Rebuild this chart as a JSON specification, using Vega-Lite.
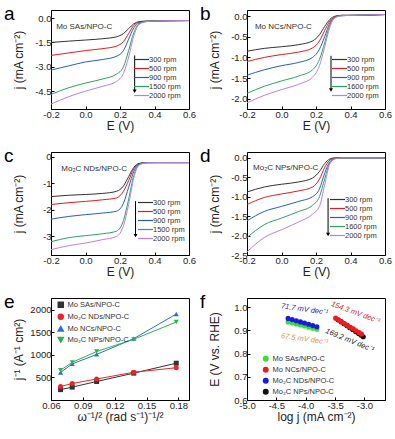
{
"$schema": "https://vega.github.io/schema/vega-lite/v6.json",
"background": "white",
"padding": {"left": 3, "top": 4, "right": 2, "bottom": 2},
"columns": 2,
"spacing": {"row": 14, "column": 2},
"config": {
  "font": "Liberation Sans",
  "locale": {"number": {"decimal": ".", "thousands": ",", "grouping": [3], "currency": ["$", ""], "minus": "-"}},
  "view": {"stroke": "black", "strokeWidth": 1},
  "axis": {"domainColor": "black", "tickColor": "black", "labelColor": "#222", "titleColor": "#222", "labelFontSize": 9.5, "titleFontSize": 12, "titleFontWeight": "normal", "grid": false, "tickSize": -3, "labelPadding": 3, "titlePadding": 2, "labelFont": "Liberation Sans", "titleFont": "Liberation Sans", "labelOverlap": false, "labelFlush": false},
  "axisY": {"minExtent": 24, "maxExtent": 24},
  "legend": {"labelFont": "Liberation Sans", "labelColor": "#333"},
  "title": {"fontSize": 19, "fontWeight": "normal", "anchor": "start", "frame": "bounds", "baseline": "alphabetic", "offset": -14, "dx": -8, "color": "black", "font": "Liberation Sans"}
},
"resolve": {"scale": {"color": "independent", "shape": "independent", "x": "independent", "y": "independent"}, "legend": {"color": "independent", "shape": "independent"}},
"datasets": {
 "lsv": [
{"p":"a","r":"300 rpm","E":-0.2,"j":-1.5},{"p":"a","r":"300 rpm","E":-0.1,"j":-1.42},{"p":"a","r":"300 rpm","E":0,"j":-1.35},{"p":"a","r":"300 rpm","E":0.1,"j":-1.27},{"p":"a","r":"300 rpm","E":0.18,"j":-1.15},{"p":"a","r":"300 rpm","E":0.22,"j":-0.95},{"p":"a","r":"300 rpm","E":0.25,"j":-0.65},{"p":"a","r":"300 rpm","E":0.28,"j":-0.35},{"p":"a","r":"300 rpm","E":0.31,"j":-0.22},{"p":"a","r":"300 rpm","E":0.35,"j":-0.18},{"p":"a","r":"300 rpm","E":0.4,"j":-0.17},{"p":"a","r":"300 rpm","E":0.6,"j":-0.15},
{"p":"a","r":"500 rpm","E":-0.2,"j":-2.3},{"p":"a","r":"500 rpm","E":-0.1,"j":-2.15},{"p":"a","r":"500 rpm","E":0,"j":-2.0},{"p":"a","r":"500 rpm","E":0.1,"j":-1.88},{"p":"a","r":"500 rpm","E":0.18,"j":-1.72},{"p":"a","r":"500 rpm","E":0.22,"j":-1.45},{"p":"a","r":"500 rpm","E":0.25,"j":-0.95},{"p":"a","r":"500 rpm","E":0.28,"j":-0.45},{"p":"a","r":"500 rpm","E":0.31,"j":-0.25},{"p":"a","r":"500 rpm","E":0.35,"j":-0.2},{"p":"a","r":"500 rpm","E":0.4,"j":-0.18},{"p":"a","r":"500 rpm","E":0.6,"j":-0.15},
{"p":"a","r":"900 rpm","E":-0.2,"j":-3.2},{"p":"a","r":"900 rpm","E":-0.1,"j":-2.95},{"p":"a","r":"900 rpm","E":0,"j":-2.7},{"p":"a","r":"900 rpm","E":0.1,"j":-2.55},{"p":"a","r":"900 rpm","E":0.18,"j":-2.35},{"p":"a","r":"900 rpm","E":0.22,"j":-2.0},{"p":"a","r":"900 rpm","E":0.25,"j":-1.3},{"p":"a","r":"900 rpm","E":0.28,"j":-0.6},{"p":"a","r":"900 rpm","E":0.31,"j":-0.3},{"p":"a","r":"900 rpm","E":0.35,"j":-0.2},{"p":"a","r":"900 rpm","E":0.4,"j":-0.18},{"p":"a","r":"900 rpm","E":0.6,"j":-0.15},
{"p":"a","r":"1500 rpm","E":-0.2,"j":-4.7},{"p":"a","r":"1500 rpm","E":-0.1,"j":-4.3},{"p":"a","r":"1500 rpm","E":0,"j":-4.0},{"p":"a","r":"1500 rpm","E":0.1,"j":-3.75},{"p":"a","r":"1500 rpm","E":0.18,"j":-3.45},{"p":"a","r":"1500 rpm","E":0.22,"j":-3.0},{"p":"a","r":"1500 rpm","E":0.25,"j":-2.0},{"p":"a","r":"1500 rpm","E":0.28,"j":-0.9},{"p":"a","r":"1500 rpm","E":0.31,"j":-0.35},{"p":"a","r":"1500 rpm","E":0.35,"j":-0.22},{"p":"a","r":"1500 rpm","E":0.4,"j":-0.18},{"p":"a","r":"1500 rpm","E":0.6,"j":-0.15},
{"p":"a","r":"2000 rpm","E":-0.2,"j":-5.3},{"p":"a","r":"2000 rpm","E":-0.1,"j":-4.85},{"p":"a","r":"2000 rpm","E":0,"j":-4.5},{"p":"a","r":"2000 rpm","E":0.1,"j":-4.2},{"p":"a","r":"2000 rpm","E":0.18,"j":-3.9},{"p":"a","r":"2000 rpm","E":0.22,"j":-3.4},{"p":"a","r":"2000 rpm","E":0.25,"j":-2.4},{"p":"a","r":"2000 rpm","E":0.28,"j":-1.1},{"p":"a","r":"2000 rpm","E":0.31,"j":-0.4},{"p":"a","r":"2000 rpm","E":0.35,"j":-0.22},{"p":"a","r":"2000 rpm","E":0.4,"j":-0.18},{"p":"a","r":"2000 rpm","E":0.6,"j":-0.15},
{"p":"b","r":"300 rpm","E":-0.2,"j":-0.85},{"p":"b","r":"300 rpm","E":-0.1,"j":-0.78},{"p":"b","r":"300 rpm","E":0,"j":-0.74},{"p":"b","r":"300 rpm","E":0.1,"j":-0.69},{"p":"b","r":"300 rpm","E":0.18,"j":-0.6},{"p":"b","r":"300 rpm","E":0.22,"j":-0.45},{"p":"b","r":"300 rpm","E":0.25,"j":-0.25},{"p":"b","r":"300 rpm","E":0.28,"j":-0.08},{"p":"b","r":"300 rpm","E":0.31,"j":0.0},{"p":"b","r":"300 rpm","E":0.35,"j":0.02},{"p":"b","r":"300 rpm","E":0.4,"j":0.02},{"p":"b","r":"300 rpm","E":0.6,"j":0.04},
{"p":"b","r":"500 rpm","E":-0.2,"j":-1.1},{"p":"b","r":"500 rpm","E":-0.1,"j":-1.0},{"p":"b","r":"500 rpm","E":0,"j":-0.93},{"p":"b","r":"500 rpm","E":0.1,"j":-0.87},{"p":"b","r":"500 rpm","E":0.18,"j":-0.77},{"p":"b","r":"500 rpm","E":0.22,"j":-0.6},{"p":"b","r":"500 rpm","E":0.25,"j":-0.35},{"p":"b","r":"500 rpm","E":0.28,"j":-0.12},{"p":"b","r":"500 rpm","E":0.31,"j":-0.01},{"p":"b","r":"500 rpm","E":0.35,"j":0.02},{"p":"b","r":"500 rpm","E":0.4,"j":0.02},{"p":"b","r":"500 rpm","E":0.6,"j":0.04},
{"p":"b","r":"900 rpm","E":-0.2,"j":-1.43},{"p":"b","r":"900 rpm","E":-0.1,"j":-1.3},{"p":"b","r":"900 rpm","E":0,"j":-1.2},{"p":"b","r":"900 rpm","E":0.1,"j":-1.12},{"p":"b","r":"900 rpm","E":0.18,"j":-1.0},{"p":"b","r":"900 rpm","E":0.22,"j":-0.8},{"p":"b","r":"900 rpm","E":0.25,"j":-0.5},{"p":"b","r":"900 rpm","E":0.28,"j":-0.17},{"p":"b","r":"900 rpm","E":0.31,"j":-0.02},{"p":"b","r":"900 rpm","E":0.35,"j":0.02},{"p":"b","r":"900 rpm","E":0.4,"j":0.02},{"p":"b","r":"900 rpm","E":0.6,"j":0.04},
{"p":"b","r":"1600 rpm","E":-0.2,"j":-1.87},{"p":"b","r":"1600 rpm","E":-0.1,"j":-1.7},{"p":"b","r":"1600 rpm","E":0,"j":-1.57},{"p":"b","r":"1600 rpm","E":0.1,"j":-1.45},{"p":"b","r":"1600 rpm","E":0.18,"j":-1.3},{"p":"b","r":"1600 rpm","E":0.22,"j":-1.05},{"p":"b","r":"1600 rpm","E":0.25,"j":-0.65},{"p":"b","r":"1600 rpm","E":0.28,"j":-0.22},{"p":"b","r":"1600 rpm","E":0.31,"j":-0.03},{"p":"b","r":"1600 rpm","E":0.35,"j":0.01},{"p":"b","r":"1600 rpm","E":0.4,"j":0.02},{"p":"b","r":"1600 rpm","E":0.6,"j":0.04},
{"p":"b","r":"2000 rpm","E":-0.2,"j":-2.1},{"p":"b","r":"2000 rpm","E":-0.1,"j":-1.92},{"p":"b","r":"2000 rpm","E":0,"j":-1.78},{"p":"b","r":"2000 rpm","E":0.1,"j":-1.65},{"p":"b","r":"2000 rpm","E":0.18,"j":-1.48},{"p":"b","r":"2000 rpm","E":0.22,"j":-1.2},{"p":"b","r":"2000 rpm","E":0.25,"j":-0.75},{"p":"b","r":"2000 rpm","E":0.28,"j":-0.27},{"p":"b","r":"2000 rpm","E":0.31,"j":-0.04},{"p":"b","r":"2000 rpm","E":0.35,"j":0.01},{"p":"b","r":"2000 rpm","E":0.4,"j":0.02},{"p":"b","r":"2000 rpm","E":0.6,"j":0.04},
{"p":"c","r":"300 rpm","E":-0.2,"j":-1.5},{"p":"c","r":"300 rpm","E":-0.1,"j":-1.45},{"p":"c","r":"300 rpm","E":0,"j":-1.42},{"p":"c","r":"300 rpm","E":0.1,"j":-1.38},{"p":"c","r":"300 rpm","E":0.18,"j":-1.3},{"p":"c","r":"300 rpm","E":0.22,"j":-1.1},{"p":"c","r":"300 rpm","E":0.25,"j":-0.75},{"p":"c","r":"300 rpm","E":0.28,"j":-0.4},{"p":"c","r":"300 rpm","E":0.31,"j":-0.25},{"p":"c","r":"300 rpm","E":0.35,"j":-0.22},{"p":"c","r":"300 rpm","E":0.4,"j":-0.22},{"p":"c","r":"300 rpm","E":0.6,"j":-0.22},
{"p":"c","r":"500 rpm","E":-0.2,"j":-1.8},{"p":"c","r":"500 rpm","E":-0.1,"j":-1.73},{"p":"c","r":"500 rpm","E":0,"j":-1.68},{"p":"c","r":"500 rpm","E":0.1,"j":-1.62},{"p":"c","r":"500 rpm","E":0.18,"j":-1.55},{"p":"c","r":"500 rpm","E":0.22,"j":-1.3},{"p":"c","r":"500 rpm","E":0.25,"j":-0.9},{"p":"c","r":"500 rpm","E":0.28,"j":-0.45},{"p":"c","r":"500 rpm","E":0.31,"j":-0.27},{"p":"c","r":"500 rpm","E":0.35,"j":-0.22},{"p":"c","r":"500 rpm","E":0.4,"j":-0.22},{"p":"c","r":"500 rpm","E":0.6,"j":-0.22},
{"p":"c","r":"900 rpm","E":-0.2,"j":-2.35},{"p":"c","r":"900 rpm","E":-0.1,"j":-2.25},{"p":"c","r":"900 rpm","E":0,"j":-2.18},{"p":"c","r":"900 rpm","E":0.1,"j":-2.12},{"p":"c","r":"900 rpm","E":0.18,"j":-2.05},{"p":"c","r":"900 rpm","E":0.22,"j":-1.75},{"p":"c","r":"900 rpm","E":0.25,"j":-1.15},{"p":"c","r":"900 rpm","E":0.28,"j":-0.55},{"p":"c","r":"900 rpm","E":0.31,"j":-0.28},{"p":"c","r":"900 rpm","E":0.35,"j":-0.22},{"p":"c","r":"900 rpm","E":0.4,"j":-0.22},{"p":"c","r":"900 rpm","E":0.6,"j":-0.22},
{"p":"c","r":"1500 rpm","E":-0.2,"j":-3.2},{"p":"c","r":"1500 rpm","E":-0.1,"j":-3.05},{"p":"c","r":"1500 rpm","E":0,"j":-2.97},{"p":"c","r":"1500 rpm","E":0.1,"j":-2.9},{"p":"c","r":"1500 rpm","E":0.18,"j":-2.8},{"p":"c","r":"1500 rpm","E":0.22,"j":-2.4},{"p":"c","r":"1500 rpm","E":0.25,"j":-1.6},{"p":"c","r":"1500 rpm","E":0.28,"j":-0.7},{"p":"c","r":"1500 rpm","E":0.31,"j":-0.3},{"p":"c","r":"1500 rpm","E":0.35,"j":-0.23},{"p":"c","r":"1500 rpm","E":0.4,"j":-0.22},{"p":"c","r":"1500 rpm","E":0.6,"j":-0.22},
{"p":"c","r":"2000 rpm","E":-0.2,"j":-3.5},{"p":"c","r":"2000 rpm","E":-0.1,"j":-3.35},{"p":"c","r":"2000 rpm","E":0,"j":-3.25},{"p":"c","r":"2000 rpm","E":0.1,"j":-3.12},{"p":"c","r":"2000 rpm","E":0.18,"j":-3.0},{"p":"c","r":"2000 rpm","E":0.22,"j":-2.6},{"p":"c","r":"2000 rpm","E":0.25,"j":-1.8},{"p":"c","r":"2000 rpm","E":0.28,"j":-0.8},{"p":"c","r":"2000 rpm","E":0.31,"j":-0.32},{"p":"c","r":"2000 rpm","E":0.35,"j":-0.23},{"p":"c","r":"2000 rpm","E":0.4,"j":-0.22},{"p":"c","r":"2000 rpm","E":0.6,"j":-0.22},
{"p":"d","r":"300 rpm","E":-0.2,"j":-0.88},{"p":"d","r":"300 rpm","E":-0.1,"j":-0.75},{"p":"d","r":"300 rpm","E":0,"j":-0.68},{"p":"d","r":"300 rpm","E":0.1,"j":-0.62},{"p":"d","r":"300 rpm","E":0.18,"j":-0.52},{"p":"d","r":"300 rpm","E":0.22,"j":-0.35},{"p":"d","r":"300 rpm","E":0.25,"j":-0.15},{"p":"d","r":"300 rpm","E":0.28,"j":-0.03},{"p":"d","r":"300 rpm","E":0.31,"j":0.0},{"p":"d","r":"300 rpm","E":0.35,"j":0.0},{"p":"d","r":"300 rpm","E":0.4,"j":0.0},{"p":"d","r":"300 rpm","E":0.6,"j":0.0},
{"p":"d","r":"500 rpm","E":-0.2,"j":-1.2},{"p":"d","r":"500 rpm","E":-0.1,"j":-1.02},{"p":"d","r":"500 rpm","E":0,"j":-0.93},{"p":"d","r":"500 rpm","E":0.1,"j":-0.85},{"p":"d","r":"500 rpm","E":0.18,"j":-0.75},{"p":"d","r":"500 rpm","E":0.22,"j":-0.55},{"p":"d","r":"500 rpm","E":0.25,"j":-0.25},{"p":"d","r":"500 rpm","E":0.28,"j":-0.06},{"p":"d","r":"500 rpm","E":0.31,"j":-0.01},{"p":"d","r":"500 rpm","E":0.35,"j":0.0},{"p":"d","r":"500 rpm","E":0.4,"j":0.0},{"p":"d","r":"500 rpm","E":0.6,"j":0.0},
{"p":"d","r":"900 rpm","E":-0.2,"j":-1.62},{"p":"d","r":"900 rpm","E":-0.1,"j":-1.38},{"p":"d","r":"900 rpm","E":0,"j":-1.25},{"p":"d","r":"900 rpm","E":0.1,"j":-1.12},{"p":"d","r":"900 rpm","E":0.18,"j":-1.0},{"p":"d","r":"900 rpm","E":0.22,"j":-0.8},{"p":"d","r":"900 rpm","E":0.25,"j":-0.4},{"p":"d","r":"900 rpm","E":0.28,"j":-0.1},{"p":"d","r":"900 rpm","E":0.31,"j":-0.02},{"p":"d","r":"900 rpm","E":0.35,"j":0.0},{"p":"d","r":"900 rpm","E":0.4,"j":0.0},{"p":"d","r":"900 rpm","E":0.6,"j":0.0},
{"p":"d","r":"1600 rpm","E":-0.2,"j":-2.05},{"p":"d","r":"1600 rpm","E":-0.1,"j":-1.72},{"p":"d","r":"1600 rpm","E":0,"j":-1.55},{"p":"d","r":"1600 rpm","E":0.1,"j":-1.38},{"p":"d","r":"1600 rpm","E":0.18,"j":-1.22},{"p":"d","r":"1600 rpm","E":0.22,"j":-1.0},{"p":"d","r":"1600 rpm","E":0.25,"j":-0.55},{"p":"d","r":"1600 rpm","E":0.28,"j":-0.13},{"p":"d","r":"1600 rpm","E":0.31,"j":-0.02},{"p":"d","r":"1600 rpm","E":0.35,"j":0.0},{"p":"d","r":"1600 rpm","E":0.4,"j":0.0},{"p":"d","r":"1600 rpm","E":0.6,"j":0.0},
{"p":"d","r":"2000 rpm","E":-0.2,"j":-2.42},{"p":"d","r":"2000 rpm","E":-0.1,"j":-2.05},{"p":"d","r":"2000 rpm","E":0,"j":-1.85},{"p":"d","r":"2000 rpm","E":0.1,"j":-1.65},{"p":"d","r":"2000 rpm","E":0.18,"j":-1.45},{"p":"d","r":"2000 rpm","E":0.22,"j":-1.25},{"p":"d","r":"2000 rpm","E":0.25,"j":-0.7},{"p":"d","r":"2000 rpm","E":0.28,"j":-0.16},{"p":"d","r":"2000 rpm","E":0.31,"j":-0.03},{"p":"d","r":"2000 rpm","E":0.35,"j":0.0},{"p":"d","r":"2000 rpm","E":0.4,"j":0.0},{"p":"d","r":"2000 rpm","E":0.6,"j":0.0}
 ],
 "kl": [
{"s":"Mo SAs/NPO-C","x":0.069,"y":230},{"s":"Mo SAs/NPO-C","x":0.080,"y":285},{"s":"Mo SAs/NPO-C","x":0.103,"y":410},{"s":"Mo SAs/NPO-C","x":0.138,"y":595},{"s":"Mo SAs/NPO-C","x":0.178,"y":815},
{"s":"Mo₂C NDs/NPO-C","x":0.069,"y":300},{"s":"Mo₂C NDs/NPO-C","x":0.080,"y":365},{"s":"Mo₂C NDs/NPO-C","x":0.103,"y":465},{"s":"Mo₂C NDs/NPO-C","x":0.138,"y":615},{"s":"Mo₂C NDs/NPO-C","x":0.178,"y":715},
{"s":"Mo NCs/NPO-C","x":0.069,"y":610},{"s":"Mo NCs/NPO-C","x":0.080,"y":800},{"s":"Mo NCs/NPO-C","x":0.103,"y":1010},{"s":"Mo NCs/NPO-C","x":0.138,"y":1360},{"s":"Mo NCs/NPO-C","x":0.178,"y":1905},
{"s":"Mo₂C NPs/NPO-C","x":0.069,"y":660},{"s":"Mo₂C NPs/NPO-C","x":0.080,"y":835},{"s":"Mo₂C NPs/NPO-C","x":0.103,"y":1075},{"s":"Mo₂C NPs/NPO-C","x":0.138,"y":1345},{"s":"Mo₂C NPs/NPO-C","x":0.178,"y":1728}
 ],
 "tafel": [
{"s":"Mo SAs/NPO-C","x":-4.30,"y":0.937},{"s":"Mo SAs/NPO-C","x":-4.23,"y":0.933},{"s":"Mo SAs/NPO-C","x":-4.16,"y":0.928},{"s":"Mo SAs/NPO-C","x":-4.09,"y":0.924},{"s":"Mo SAs/NPO-C","x":-4.02,"y":0.919},{"s":"Mo SAs/NPO-C","x":-3.95,"y":0.914},{"s":"Mo SAs/NPO-C","x":-3.88,"y":0.910},{"s":"Mo SAs/NPO-C","x":-3.81,"y":0.905},
{"s":"Mo₂C NDs/NPO-C","x":-4.30,"y":0.952},{"s":"Mo₂C NDs/NPO-C","x":-4.23,"y":0.947},{"s":"Mo₂C NDs/NPO-C","x":-4.16,"y":0.942},{"s":"Mo₂C NDs/NPO-C","x":-4.09,"y":0.937},{"s":"Mo₂C NDs/NPO-C","x":-4.02,"y":0.932},{"s":"Mo₂C NDs/NPO-C","x":-3.95,"y":0.927},{"s":"Mo₂C NDs/NPO-C","x":-3.88,"y":0.921},{"s":"Mo₂C NDs/NPO-C","x":-3.81,"y":0.916},
{"s":"Mo₂C NPs/NPO-C","x":-3.45,"y":0.946},{"s":"Mo₂C NPs/NPO-C","x":-3.40,"y":0.938},{"s":"Mo₂C NPs/NPO-C","x":-3.35,"y":0.929},{"s":"Mo₂C NPs/NPO-C","x":-3.30,"y":0.921},{"s":"Mo₂C NPs/NPO-C","x":-3.25,"y":0.912},{"s":"Mo₂C NPs/NPO-C","x":-3.20,"y":0.904},{"s":"Mo₂C NPs/NPO-C","x":-3.15,"y":0.895},{"s":"Mo₂C NPs/NPO-C","x":-3.10,"y":0.887},{"s":"Mo₂C NPs/NPO-C","x":-3.06,"y":0.880},{"s":"Mo₂C NPs/NPO-C","x":-3.02,"y":0.873},
{"s":"Mo NCs/NPO-C","x":-3.49,"y":0.953},{"s":"Mo NCs/NPO-C","x":-3.44,"y":0.945},{"s":"Mo NCs/NPO-C","x":-3.39,"y":0.937},{"s":"Mo NCs/NPO-C","x":-3.34,"y":0.930},{"s":"Mo NCs/NPO-C","x":-3.29,"y":0.922},{"s":"Mo NCs/NPO-C","x":-3.24,"y":0.914},{"s":"Mo NCs/NPO-C","x":-3.19,"y":0.907},{"s":"Mo NCs/NPO-C","x":-3.14,"y":0.899},{"s":"Mo NCs/NPO-C","x":-3.09,"y":0.891},{"s":"Mo NCs/NPO-C","x":-3.05,"y":0.885}
 ]
},
"concat": [
 {
  "title": {"text": "a"},
  "width": 138, "height": 99,
  "encoding": {
   "x": {"field": "E", "type": "quantitative", "scale": {"domain": [-0.2, 0.6], "nice": false}, "axis": {"values": [-0.2, 0, 0.2, 0.4, 0.6], "format": ".1f", "title": "E (V)", "labelOverlap": false}},
   "y": {"field": "j", "type": "quantitative", "scale": {"domain": [-5.6, 0.5], "nice": false, "zero": false}, "axis": {"values": [0, -1.5, -3, -4.5], "format": ".1f", "title": "j (mA cm⁻²)", "labelOverlap": false}}
  },
  "layer": [
   {"data": {"name": "lsv"}, "transform": [{"filter": "datum.p == 'a'"}],
    "mark": {"type": "line", "strokeWidth": 1, "interpolate": "monotone"},
    "encoding": {
     "color": {"field": "r", "type": "nominal", "sort": null, "scale": {"domain": ["300 rpm", "500 rpm", "900 rpm", "1500 rpm", "2000 rpm"], "range": ["#333333", "#e41a1c", "#1f5fc4", "#2ca25f", "#c07ee0"]},
      "legend": {"title": null, "orient": "none", "legendX": 86, "legendY": 45, "symbolType": "M-2,0H2", "symbolSize": 56, "symbolStrokeWidth": 1.2, "labelFontSize": 7.5, "rowPadding": 1, "labelOffset": 3, "padding": 0}}
    }},
   {"data": {"values": [{"E": 0.285, "j": -2.3, "j2": -4.5}]}, "mark": {"type": "rule", "color": "black", "strokeWidth": 1},
    "encoding": {"y2": {"field": "j2"}}},
   {"data": {"values": [{"E": 0.285, "j": -4.5}]}, "mark": {"type": "point", "shape": "triangle-down", "filled": true, "color": "black", "size": 16, "opacity": 1}, "encoding": {}},
   {"data": {"values": [{"E": -0.17, "j": -0.57, "t": "Mo SAs/NPO-C"}]}, "mark": {"type": "text", "align": "left", "baseline": "middle", "fontSize": 8, "color": "#333"},
    "encoding": {"text": {"field": "t"}}}
  ]
 },
 {
  "title": {"text": "b"},
  "width": 138, "height": 99,
  "encoding": {
   "x": {"field": "E", "type": "quantitative", "scale": {"domain": [-0.2, 0.6], "nice": false}, "axis": {"values": [-0.2, 0, 0.2, 0.4, 0.6], "format": ".1f", "title": "E (V)", "labelOverlap": false}},
   "y": {"field": "j", "type": "quantitative", "scale": {"domain": [-2.25, 0.15], "nice": false, "zero": false}, "axis": {"values": [0, -0.5, -1, -1.5, -2], "format": ".1f", "title": "j (mA cm⁻²)", "labelOverlap": false}}
  },
  "layer": [
   {"data": {"name": "lsv"}, "transform": [{"filter": "datum.p == 'b'"}],
    "mark": {"type": "line", "strokeWidth": 1, "interpolate": "monotone"},
    "encoding": {
     "color": {"field": "r", "type": "nominal", "sort": null, "scale": {"domain": ["300 rpm", "500 rpm", "900 rpm", "1600 rpm", "2000 rpm"], "range": ["#333333", "#e41a1c", "#1f5fc4", "#2ca25f", "#c07ee0"]},
      "legend": {"title": null, "orient": "none", "legendX": 88, "legendY": 45, "symbolType": "M-2,0H2", "symbolSize": 56, "symbolStrokeWidth": 1.2, "labelFontSize": 7.5, "rowPadding": 1, "labelOffset": 3, "padding": 0}}
    }},
   {"data": {"values": [{"E": 0.287, "j": -0.96, "j2": -1.79}]}, "mark": {"type": "rule", "color": "black", "strokeWidth": 1},
    "encoding": {"y2": {"field": "j2"}}},
   {"data": {"values": [{"E": 0.287, "j": -1.79}]}, "mark": {"type": "point", "shape": "triangle-down", "filled": true, "color": "black", "size": 16, "opacity": 1}, "encoding": {}},
   {"data": {"values": [{"E": -0.154, "j": -0.26, "t": "Mo NCs/NPO-C"}]}, "mark": {"type": "text", "align": "left", "baseline": "middle", "fontSize": 8, "color": "#333"},
    "encoding": {"text": {"field": "t"}}}
  ]
 },
 {
  "title": {"text": "c"},
  "width": 138, "height": 103,
  "encoding": {
   "x": {"field": "E", "type": "quantitative", "scale": {"domain": [-0.2, 0.6], "nice": false}, "axis": {"values": [-0.2, 0, 0.2, 0.4, 0.6], "format": ".1f", "title": "E (V)", "labelOverlap": false}},
   "y": {"field": "j", "type": "quantitative", "scale": {"domain": [-3.7, 0.18], "nice": false, "zero": false}, "axis": {"values": [0, -1, -2, -3], "format": "d", "title": "j (mA cm⁻²)", "labelOverlap": false}}
  },
  "layer": [
   {"data": {"name": "lsv"}, "transform": [{"filter": "datum.p == 'c'"}],
    "mark": {"type": "line", "strokeWidth": 1, "interpolate": "monotone"},
    "encoding": {
     "color": {"field": "r", "type": "nominal", "sort": null, "scale": {"domain": ["300 rpm", "500 rpm", "900 rpm", "1500 rpm", "2000 rpm"], "range": ["#333333", "#e41a1c", "#1f5fc4", "#2ca25f", "#c07ee0"]},
      "legend": {"title": null, "orient": "none", "legendX": 90, "legendY": 46, "symbolType": "M-2,0H2", "symbolSize": 56, "symbolStrokeWidth": 1.2, "labelFontSize": 7.5, "rowPadding": 1, "labelOffset": 3, "padding": 0}}
    }},
   {"data": {"values": [{"E": 0.29, "j": -1.67, "j2": -2.97}]}, "mark": {"type": "rule", "color": "black", "strokeWidth": 1},
    "encoding": {"y2": {"field": "j2"}}},
   {"data": {"values": [{"E": 0.29, "j": -2.97}]}, "mark": {"type": "point", "shape": "triangle-down", "filled": true, "color": "black", "size": 16, "opacity": 1}, "encoding": {}},
   {"data": {"values": [{"E": -0.14, "j": -0.47, "t": "Mo₂C NDs/NPO-C"}]}, "mark": {"type": "text", "align": "left", "baseline": "middle", "fontSize": 8, "color": "#333"},
    "encoding": {"text": {"field": "t"}}}
  ]
 },
 {
  "title": {"text": "d"},
  "width": 138, "height": 103,
  "encoding": {
   "x": {"field": "E", "type": "quantitative", "scale": {"domain": [-0.2, 0.6], "nice": false}, "axis": {"values": [-0.2, 0, 0.2, 0.4, 0.6], "format": ".1f", "title": "E (V)", "labelOverlap": false}},
   "y": {"field": "j", "type": "quantitative", "scale": {"domain": [-2.5, 0.15], "nice": false, "zero": false}, "axis": {"values": [0, -0.5, -1, -1.5, -2, -2.5], "format": ".1f", "title": "j (mA cm⁻²)", "labelOverlap": false}}
  },
  "layer": [
   {"data": {"name": "lsv"}, "transform": [{"filter": "datum.p == 'd'"}],
    "mark": {"type": "line", "strokeWidth": 1, "interpolate": "monotone"},
    "encoding": {
     "color": {"field": "r", "type": "nominal", "sort": null, "scale": {"domain": ["300 rpm", "500 rpm", "900 rpm", "1600 rpm", "2000 rpm"], "range": ["#333333", "#e41a1c", "#1f5fc4", "#2ca25f", "#c07ee0"]},
      "legend": {"title": null, "orient": "none", "legendX": 86, "legendY": 43, "symbolType": "M-2,0H2", "symbolSize": 56, "symbolStrokeWidth": 1.2, "labelFontSize": 7.5, "rowPadding": 1, "labelOffset": 3, "padding": 0}}
    }},
   {"data": {"values": [{"E": 0.27, "j": -1.04, "j2": -1.97}]}, "mark": {"type": "rule", "color": "black", "strokeWidth": 1},
    "encoding": {"y2": {"field": "j2"}}},
   {"data": {"values": [{"E": 0.27, "j": -1.97}]}, "mark": {"type": "point", "shape": "triangle-down", "filled": true, "color": "black", "size": 16, "opacity": 1}, "encoding": {}},
   {"data": {"values": [{"E": -0.165, "j": -0.25, "t": "Mo₂C NPs/NPO-C"}]}, "mark": {"type": "text", "align": "left", "baseline": "middle", "fontSize": 8, "color": "#333"},
    "encoding": {"text": {"field": "t"}}}
  ]
 },
 {
  "title": {"text": "e"},
  "width": 138, "height": 102,
  "data": {"name": "kl"},
  "encoding": {
   "x": {"field": "x", "type": "quantitative", "scale": {"domain": [0.06, 0.19], "nice": false, "zero": false}, "axis": {"values": [0.06, 0.09, 0.12, 0.15, 0.18], "format": ".2f", "title": "ω⁻¹/² (rad s⁻¹)⁻¹/²", "labelOverlap": false}},
   "y": {"field": "y", "type": "quantitative", "scale": {"domain": [0, 2260], "nice": false}, "axis": {"values": [500, 1000, 1500, 2000], "format": "d", "title": "j⁻¹ (A⁻¹ cm²)", "labelOverlap": false}},
   "color": {"field": "s", "type": "nominal", "sort": null, "scale": {"domain": ["Mo SAs/NPO-C", "Mo₂C NDs/NPO-C", "Mo NCs/NPO-C", "Mo₂C NPs/NPO-C"], "range": ["#333333", "#e8252a", "#2a6fd6", "#2cb34a"]},
    "legend": {"title": null, "orient": "none", "legendX": 6, "legendY": 3, "labelFontSize": 7.5, "rowPadding": 0, "labelOffset": 3, "padding": 0, "symbolSize": 25}}
  },
  "layer": [
   {"mark": {"type": "line", "strokeWidth": 1}},
   {"mark": {"type": "point", "filled": true, "size": 25, "opacity": 1},
    "encoding": {"shape": {"field": "s", "type": "nominal", "sort": null, "scale": {"domain": ["Mo SAs/NPO-C", "Mo₂C NDs/NPO-C", "Mo NCs/NPO-C", "Mo₂C NPs/NPO-C"], "range": ["square", "circle", "triangle-up", "triangle-down"]},
     "legend": {"title": null, "orient": "none", "legendX": 6, "legendY": 3, "labelFontSize": 7.5, "rowPadding": 0, "labelOffset": 3, "padding": 0, "symbolSize": 25}}}}
  ]
 },
 {
  "title": {"text": "f"},
  "width": 138, "height": 102,
  "encoding": {
   "x": {"field": "x", "type": "quantitative", "scale": {"domain": [-5.0, -2.65], "nice": false, "zero": false}, "axis": {"values": [-5, -4.5, -4, -3.5, -3], "format": ".1f", "title": "log j (mA cm⁻²)", "labelOverlap": false}},
   "y": {"field": "y", "type": "quantitative", "scale": {"domain": [0.6, 1.04], "nice": false, "zero": false}, "axis": {"values": [0.6, 0.7, 0.8, 0.9, 1.0], "format": ".1f", "title": "E (V vs. RHE)", "labelOverlap": false}}
  },
  "layer": [
   {"data": {"name": "tafel"},
    "mark": {"type": "line", "strokeWidth": 1, "point": {"filled": true, "size": 26, "opacity": 1}},
    "encoding": {
     "color": {"field": "s", "type": "nominal", "sort": null, "scale": {"domain": ["Mo SAs/NPO-C", "Mo NCs/NPO-C", "Mo₂C NDs/NPO-C", "Mo₂C NPs/NPO-C"], "range": ["#33e033", "#ee1c1c", "#1a1ae0", "#111111"]},
      "legend": {"title": null, "orient": "none", "legendX": 15, "legendY": 57, "symbolType": "circle", "symbolSize": 20, "labelFontSize": 7.5, "rowPadding": 0, "labelOffset": 3, "padding": 0}}
    }},
   {"data": {"values": [{"x": -4.02, "y": 0.99, "t": "71.7 mV dec⁻¹"}]}, "mark": {"type": "text", "fontSize": 7.5, "fontStyle": "italic", "color": "#2222cc", "angle": 8},
    "encoding": {"text": {"field": "t"}}},
   {"data": {"values": [{"x": -4.02, "y": 0.862, "t": "67.5 mV dec⁻¹"}]}, "mark": {"type": "text", "fontSize": 7.5, "fontStyle": "italic", "color": "#e0904a", "angle": 8},
    "encoding": {"text": {"field": "t"}}},
   {"data": {"values": [{"x": -3.15, "y": 0.976, "t": "154.3 mV dec⁻¹"}]}, "mark": {"type": "text", "fontSize": 7.5, "fontStyle": "italic", "color": "#dd2222", "angle": 20},
    "encoding": {"text": {"field": "t"}}},
   {"data": {"values": [{"x": -3.25, "y": 0.856, "t": "169.2 mV dec⁻¹"}]}, "mark": {"type": "text", "fontSize": 7.5, "fontStyle": "italic", "color": "#222222", "angle": 22},
    "encoding": {"text": {"field": "t"}}}
  ]
 }
]
}
